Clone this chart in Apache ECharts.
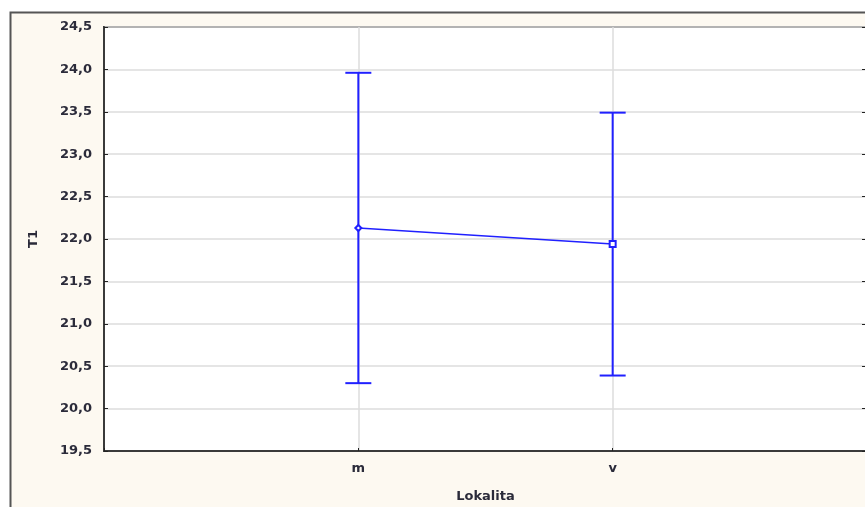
<!DOCTYPE html>
<html>
<head>
<meta charset="utf-8">
<script src="https://cdn.jsdelivr.net/npm/echarts@6/dist/echarts.min.js"></script>
<style>
  html, body { margin: 0; padding: 0; background: #ffffff; }
  #chart { width: 865px; height: 507px; }
</style>
</head>
<body>
<div id="chart"></div>
<script>
// Locality groups and T1 means with their interval bounds
const categories = ['m', 'v'];
const means = [22.13, 21.94];
const lowerBounds = [20.30, 20.39];
const upperBounds = [23.96, 23.49];
const yTicks = [19.5, 20.0, 20.5, 21.0, 21.5, 22.0, 22.5, 23.0, 23.5, 24.0, 24.5];
const markerShapes = ['emptyDiamond', 'emptyRect'];

const BLUE = '#2020ff';
const TEXT = '#2b2b3a';
const FONT = 'DejaVu Sans';

// Groups sit at x = 1, 2 on a 0..3 value axis (one third spacing)
const meanPoints = categories.map((c, i) => ({
  value: [i + 1, means[i]],
  symbol: markerShapes[i]
}));
const barPoints = categories.map((c, i) => [i + 1, lowerBounds[i], upperBounds[i]]);

const chart = echarts.init(document.getElementById('chart'), null, { renderer: 'canvas' });

const fmt = v => v.toFixed(1).replace('.', ',');

chart.setOption({
  animation: false,
  backgroundColor: '#ffffff',
  graphic: [{
    type: 'rect',
    z: -10,
    silent: true,
    shape: { x: 10.5, y: 12.5, width: 870, height: 510 },
    style: { fill: '#fdf9f1', stroke: '#555555', lineWidth: 2 }
  }],
  grid: {
    left: 104, top: 27, right: -2, bottom: 56,
    outerBoundsMode: 'none',
    containLabel: false,
    show: true,
    backgroundColor: '#ffffff',
    borderColor: '#3a3a3a',
    borderWidth: 2
  },
  xAxis: {
    type: 'value',
    min: 0, max: 3, interval: 1,
    name: 'Lokalita',
    nameLocation: 'middle',
    nameGap: 39,
    nameTextStyle: { fontFamily: FONT, fontWeight: 'bold', fontSize: 13, color: TEXT },
    axisLine: { show: true, lineStyle: { color: '#3a3a3a', width: 2 } },
    axisTick: { show: true, inside: true, length: 3, lineStyle: { color: '#222' } },
    axisLabel: {
      margin: 11,
      fontFamily: FONT, fontWeight: 'bold', fontSize: 13, color: TEXT,
      formatter: v => (v >= 1 && v <= categories.length ? categories[v - 1] : '')
    },
    splitLine: { show: true, lineStyle: { color: '#dcdcdc', width: 1.5 } }
  },
  yAxis: [{
    type: 'value',
    min: yTicks[0], max: yTicks[yTicks.length - 1], interval: 0.5,
    name: 'T1',
    nameLocation: 'middle',
    nameGap: 64,
    nameTextStyle: { fontFamily: FONT, fontWeight: 'bold', fontSize: 13, color: TEXT },
    axisLine: { show: true, lineStyle: { color: '#3a3a3a', width: 2 } },
    axisTick: { show: true, inside: true, length: 4, lineStyle: { color: '#222' } },
    axisLabel: {
      margin: 12,
      fontFamily: FONT, fontWeight: 'bold', fontSize: 13, color: TEXT,
      formatter: fmt
    },
    splitLine: { show: true, lineStyle: { color: '#dcdcdc', width: 1.5 } }
  }, {
    type: 'value',
    position: 'right',
    min: yTicks[0], max: yTicks[yTicks.length - 1], interval: 0.5,
    axisLine: { show: true, lineStyle: { color: '#3a3a3a', width: 2 } },
    axisTick: { show: true, inside: true, length: 5, lineStyle: { color: '#222' } },
    axisLabel: { show: false },
    splitLine: { show: false }
  }],
  series: [{
    type: 'custom',
    name: 'interval',
    data: barPoints,
    z: 3,
    renderItem: function (params, api) {
      const x = api.value(0);
      const lo = api.coord([x, api.value(1)]);
      const hi = api.coord([x, api.value(2)]);
      const cap = 13;
      const style = { stroke: BLUE, lineWidth: 2, fill: null };
      return {
        type: 'group',
        children: [
          { type: 'line', shape: { x1: lo[0], y1: lo[1], x2: hi[0], y2: hi[1] }, style },
          { type: 'line', shape: { x1: hi[0] - cap, y1: hi[1], x2: hi[0] + cap, y2: hi[1] }, style },
          { type: 'line', shape: { x1: lo[0] - cap, y1: lo[1], x2: lo[0] + cap, y2: lo[1] }, style }
        ]
      };
    }
  }, {
    type: 'line',
    name: 'T1',
    data: meanPoints,
    z: 4,
    symbolSize: 6,
    lineStyle: { color: BLUE, width: 1.5 },
    itemStyle: { color: BLUE, borderColor: BLUE, borderWidth: 1.5 }
  }]
});
</script>
</body>
</html>
